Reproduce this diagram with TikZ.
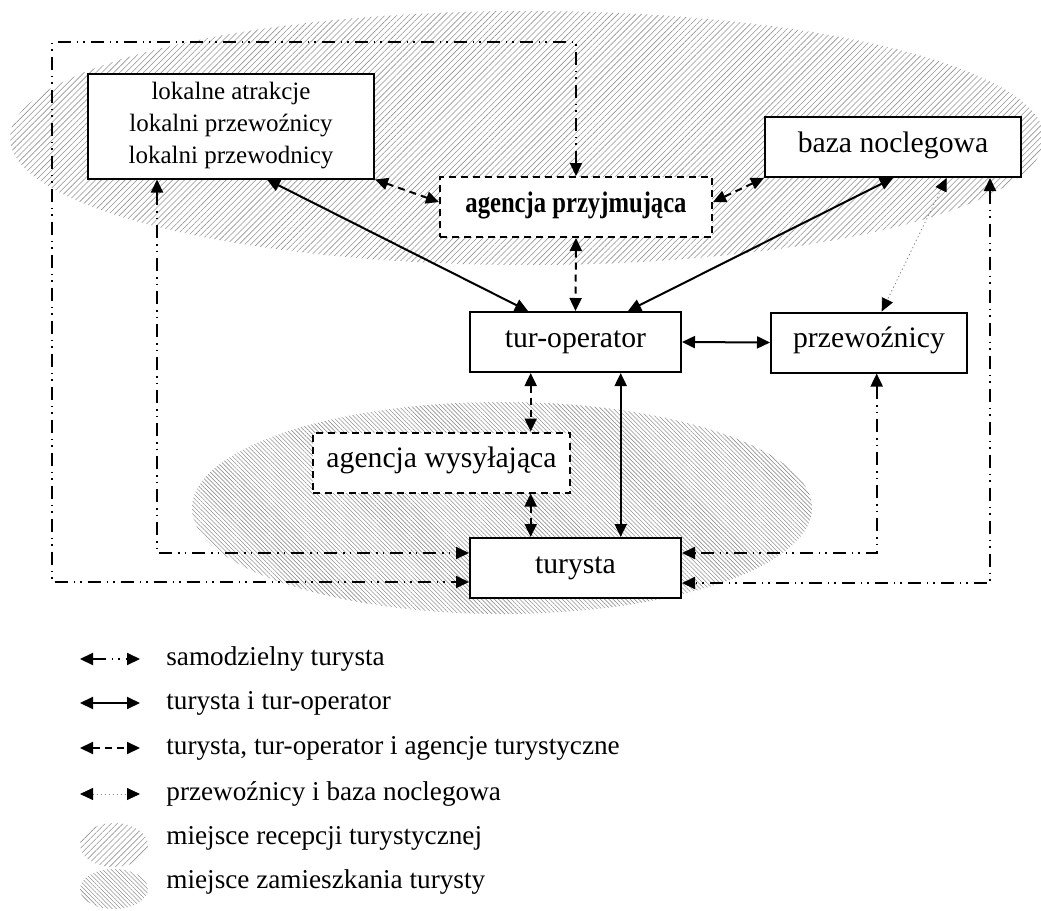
\documentclass[tikz,border=0pt]{standalone}
\usepackage{fontspec}
\setmainfont{Liberation Serif}
\usepackage{graphicx}
\usetikzlibrary{arrows.meta,patterns.meta}

\newcommand\boxfont{\fontsize{14.85pt}{17pt}\selectfont}
\newcommand\lokfont{\fontsize{12.5pt}{16pt}\selectfont}
\newcommand\legfont{\fontsize{13.6pt}{16pt}\selectfont}

\tikzset{
  >={Triangle[length=6.5pt,width=6pt,color=black]},
  frame/.style={draw, line width=1pt, fill=white, inner sep=0pt},
  box/.style={frame, minimum height=30pt, font=\boxfont, text height=0.75em, text depth=0.25em},
  dbox/.style={box, dash pattern=on 3.5pt off 2.5pt},
  solidln/.style={<->, line width=1pt},
  dashln/.style={<->, line width=1pt, dash pattern=on 3.5pt off 2.5pt},
  ddotln/.style={<->, line width=1pt, dash pattern=on 6.5pt off 3pt on 0.75pt off 2.5pt on 0.75pt off 3pt},
  dotln/.style={<->, line width=0.4pt, gray, dash pattern=on 0.6pt off 1.4pt},
  recep/.style={pattern={Lines[angle=45,distance=2.1pt,line width=0.3pt]}, pattern color=gray!85},
  zamiesz/.style={pattern={Lines[angle=-45,distance=1.5pt,line width=0.3pt]}, pattern color=gray!85},
  legtxt/.style={anchor=west, inner sep=0pt, font=\legfont}
}

\begin{document}
\begin{tikzpicture}[x=0.5pt,y=-0.5pt]
  \useasboundingbox (0,0) rectangle (1041,911);

  % obszary
  \fill[recep] (527,138) ellipse [x radius=258.5pt, y radius=63.5pt];
  \fill[zamiesz] (502,508) ellipse [x radius=155pt, y radius=53pt];

  \node (lok) [frame, font=\lokfont, align=center, minimum width=143pt, minimum height=52.5pt] at (231,126) {lokalne atrakcje\\lokalni przewoźnicy\\lokalni przewodnicy};
  \node (agp) [dbox, minimum width=136pt] at (576,207) {\scalebox{0.83}[1]{\bfseries agencja przyjmująca}};
  \node (baza) [box, minimum width=128pt] at (893,147) {baza noclegowa};
  \node (tur) [box, minimum width=105.5pt] at (575.5,342) {tur-operator};
  \node (prz) [box, minimum width=98pt] at (869,342.5) {przewoźnicy};
  \node (agw) [dbox, minimum width=128.5pt] at (441.5,462.5) {agencja wysyłająca};
  \node (tury) [box, minimum width=105.5pt] at (575.5,568) {turysta};
  \coordinate (ul) at (52,42);

  % turysta i tur-operator
  \draw[solidln] ([xshift=18pt]lok.south) -- ([xshift=-23.75pt]tur.north);
  \draw[solidln] (baza.south) -- ([xshift=26.25pt]tur.north);
  \draw[solidln] (tur.east) -- (prz.west);
  \draw[solidln] ([xshift=22.6pt]tur.south) -- ([xshift=22.6pt]tury.north);

  % agencje
  \draw[dashln] (lok.south east) -- ([yshift=2.5pt]agp.west);
  \draw[dashln] (baza.south west) -- ([yshift=2.5pt]agp.east);
  \draw[dashln] (agp.south) -- (tur.north);
  \draw[dashln] ([xshift=-22.4pt]tur.south) -- ([xshift=44.6pt]agw.north);
  \draw[dashln] ([xshift=44.6pt]agw.south) -- ([xshift=-22.4pt]tury.north);

  % samodzielny turysta
  \draw[ddotln] (agp.north) |- (ul) |- ([yshift=-7pt]tury.west);
  \draw[ddotln] ([xshift=-37pt]lok.south) |- ([yshift=7.5pt]tury.west);
  \draw[ddotln] ([xshift=3.85pt]prz.south) |- ([yshift=7.5pt]tury.east);
  \draw[ddotln] ([xshift=48.5pt]baza.south) |- ([yshift=-7.5pt]tury.east);

  % przewoznicy i baza
  \draw[dotln] ([xshift=26.85pt]baza.south) -- ([xshift=6.35pt]prz.north);

  % legenda
  \node (l1) [legtxt] at (166,659) {samodzielny turysta};
  \node (l2) [legtxt] at (166,703) {turysta i tur-operator};
  \node (l3) [legtxt] at (166,748) {turysta, tur-operator i agencje turystyczne};
  \node (l4) [legtxt] at (166,794) {przewoźnicy i baza noclegowa};
  \node (l5) [legtxt] at (166,838) {miejsce recepcji turystycznej};
  \node (l6) [legtxt] at (166,882) {miejsce zamieszkania turysty};
  \draw[ddotln] ([xshift=-43pt]l1.west) -- ([xshift=-13pt]l1.west);
  \draw[solidln] ([xshift=-43pt]l2.west) -- ([xshift=-13pt]l2.west);
  \draw[dashln] ([xshift=-43pt]l3.west) -- ([xshift=-13pt]l3.west);
  \draw[dotln] ([xshift=-43pt]l4.west) -- ([xshift=-13pt]l4.west);
  \fill[recep] (114,845) ellipse [x radius=17pt, y radius=11pt];
  \fill[zamiesz] (114,889) ellipse [x radius=17pt, y radius=10pt];

\end{tikzpicture}
\end{document}
